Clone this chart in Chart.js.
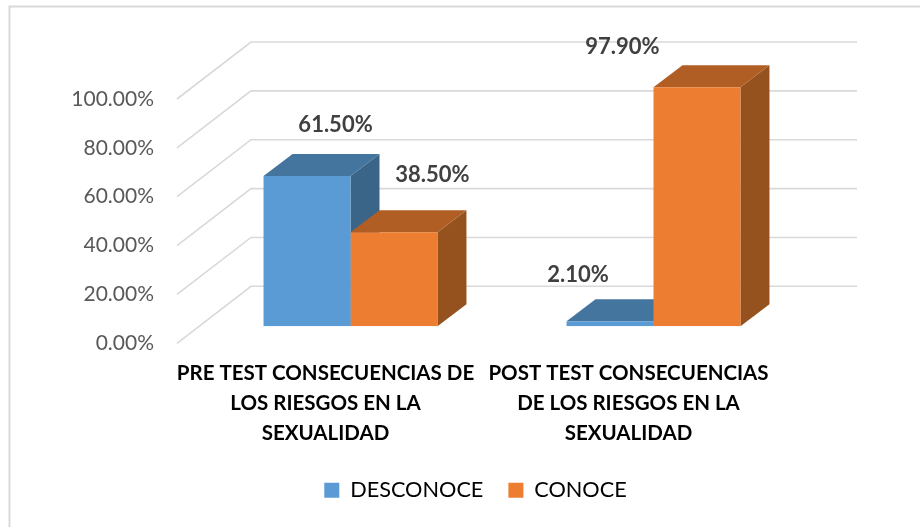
<!DOCTYPE html>
<html>
<head>
<meta charset="utf-8">
<style>
html,body{margin:0;padding:0;background:#fff;overflow:hidden}
#wrap{position:relative;width:920px;height:527px}
canvas{display:block}
</style>
<script src="https://cdn.jsdelivr.net/npm/chart.js@4/dist/chart.umd.min.js"></script>
</head>
<body>
<div id="wrap"><canvas id="c" width="920" height="527"></canvas></div>
<script>
const categories = [
  ["PRE TEST CONSECUENCIAS DE", "LOS RIESGOS EN LA", "SEXUALIDAD"],
  ["POST TEST CONSECUENCIAS", "DE LOS RIESGOS EN LA", "SEXUALIDAD"]
];
const seriesNames = ["DESCONOCE", "CONOCE"];
const desconoce = [61.5, 2.1];
const conoce = [38.5, 97.9];
const yTicks = [0, 20, 40, 60, 80, 100];

const FONT = "Lato, Carlito, sans-serif";
const FRONT = ["#5B9BD5", "#ED7D31"];
const TOP = ["#44759F", "#B15E25"];
const SIDE = ["#3A6589", "#96521E"];
const GRID = "#D9D9D9";
const WALL = {dx: 74, dy: -57};          // depth of the 3D box
const BAR_SHIFT = {dx: 22, dy: -17};     // bar front face inside the box
const BAR_DEPTH = {dx: 29, dy: -22};     // depth of a bar
// data label placement relative to the bar's front-top-centre
const LABEL_OFFSET = [
  [{dx: 28.5, dy: -51}, {dx: -32, dy: -46}],
  [{dx: 38.5, dy: -57}, {dx: -74.5, dy: -40}]
];

function poly(ctx, pts, fill) {
  ctx.beginPath();
  pts.forEach((p, i) => i ? ctx.lineTo(p[0], p[1]) : ctx.moveTo(p[0], p[1]));
  ctx.closePath();
  ctx.fillStyle = fill;
  ctx.fill();
}

const threeD = {
  id: "threeD",
  afterLayout(chart) {
    // centre the legend where the reference has it
    chart.legend.left = 168;
  },
  beforeDraw(chart) {
    const ctx = chart.ctx;
    ctx.save();
    ctx.fillStyle = "#fff";
    ctx.fillRect(0, 0, chart.width, chart.height);
    ctx.strokeStyle = GRID;
    ctx.lineWidth = 2;
    ctx.beginPath();
    ctx.moveTo(9.5, chart.height);
    ctx.lineTo(9.5, 6.5);
    ctx.lineTo(chart.width, 6.5);
    ctx.stroke();
    ctx.restore();
  },
  beforeDatasetsDraw(chart) {
    const ctx = chart.ctx, y = chart.scales.y, a = chart.chartArea;
    ctx.save();
    ctx.strokeStyle = GRID;
    ctx.lineWidth = 1.6;
    yTicks.forEach(t => {
      const py = y.getPixelForValue(t);
      ctx.beginPath();
      ctx.moveTo(a.left, py);
      ctx.lineTo(a.left + WALL.dx, py + WALL.dy);
      ctx.lineTo(a.right + WALL.dx, py + WALL.dy);
      ctx.stroke();
    });
    ctx.translate(BAR_SHIFT.dx, BAR_SHIFT.dy);
    chart.data.datasets.forEach((ds, d) => {
      chart.getDatasetMeta(d).data.forEach(bar => {
        const l = bar.x - bar.width / 2, r = bar.x + bar.width / 2;
        const t = bar.y, b = bar.base, ox = BAR_DEPTH.dx, oy = BAR_DEPTH.dy;
        poly(ctx, [[r, t], [r + ox, t + oy], [r + ox, b + oy], [r, b]], SIDE[d]);
        poly(ctx, [[l, t], [l + ox, t + oy], [r + ox, t + oy], [r, t]], TOP[d]);
      });
    });
    // stays translated so the library draws the front faces in place
  },
  afterDatasetsDraw(chart) {
    const ctx = chart.ctx;
    ctx.restore();
    ctx.save();
    ctx.font = "bold 22px " + FONT;
    ctx.fillStyle = "#404040";
    ctx.textAlign = "center";
    ctx.textBaseline = "middle";
    chart.data.datasets.forEach((ds, d) => {
      chart.getDatasetMeta(d).data.forEach((bar, i) => {
        const off = LABEL_OFFSET[d][i];
        ctx.fillText(ds.data[i].toFixed(2) + "%",
          bar.x + BAR_SHIFT.dx + off.dx,
          bar.y + BAR_SHIFT.dy + off.dy);
      });
    });
    ctx.restore();
  }
};

new Chart(document.getElementById("c"), {
  type: "bar",
  data: {
    labels: categories,
    datasets: [
      {label: seriesNames[0], data: desconoce, backgroundColor: FRONT[0], borderWidth: 0},
      {label: seriesNames[1], data: conoce, backgroundColor: FRONT[1], borderWidth: 0}
    ]
  },
  options: {
    responsive: false,
    animation: false,
    events: [],
    layout: {padding: {left: 0, right: 137, top: 99, bottom: 16}},
    datasets: {bar: {categoryPercentage: 0.574, barPercentage: 1}},
    plugins: {
      tooltip: {enabled: false},
      title: {display: false},
      legend: {
        position: "bottom",
        labels: {
          boxWidth: 15,
          boxHeight: 15,
          padding: 25,
          color: "#000000",
          font: {family: FONT, size: 21.7}
        }
      }
    },
    scales: {
      x: {
        grid: {display: false},
        border: {display: false},
        ticks: {
          color: "#000000",
          maxRotation: 0,
          minRotation: 0,
          padding: 7,
          labelOffset: -3,
          autoSkip: false,
          font: {family: FONT, size: 20.5, weight: "bold", lineHeight: 1.46}
        },
        afterFit(s) { s.height = 111; }
      },
      y: {
        min: 0,
        max: 100,
        afterBuildTicks(s) { s.ticks = yTicks.map(v => ({value: v})); },
        grid: {display: false},
        border: {display: false},
        ticks: {
          color: "#595959",
          padding: 15,
          font: {family: FONT, size: 21},
          callback: v => v.toFixed(2) + "%"
        },
        afterFit(s) { s.width = 177; }
      }
    }
  },
  plugins: [threeD]
});
</script>
</body>
</html>
